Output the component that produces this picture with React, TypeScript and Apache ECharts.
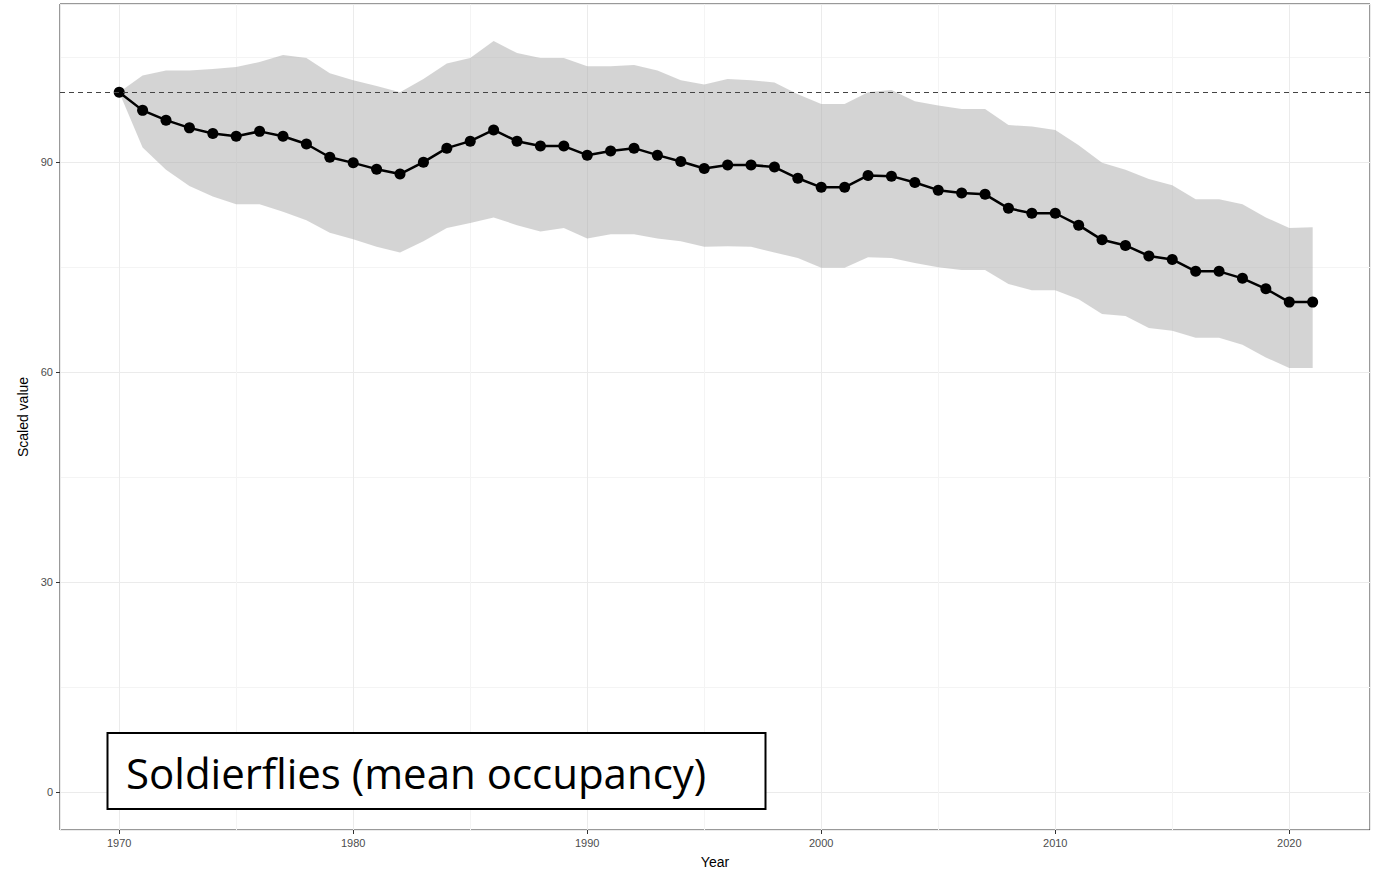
import React, { useEffect, useRef } from "react";
import * as echarts from "echarts";

const years = [
  1970, 1971, 1972, 1973, 1974, 1975, 1976, 1977, 1978, 1979,
  1980, 1981, 1982, 1983, 1984, 1985, 1986, 1987, 1988, 1989,
  1990, 1991, 1992, 1993, 1994, 1995, 1996, 1997, 1998, 1999,
  2000, 2001, 2002, 2003, 2004, 2005, 2006, 2007, 2008, 2009,
  2010, 2011, 2012, 2013, 2014, 2015, 2016, 2017, 2018, 2019,
  2020, 2021,
];

const meanValues = [
  100, 97.4, 96.0, 94.9, 94.1, 93.7, 94.4, 93.7, 92.6, 90.7,
  89.9, 89.0, 88.3, 90.0, 92.0, 93.0, 94.6, 93.0, 92.3, 92.3,
  91.0, 91.6, 92.0, 91.0, 90.1, 89.1, 89.6, 89.6, 89.3, 87.7,
  86.4, 86.4, 88.1, 88.0, 87.1, 86.0, 85.6, 85.4, 83.4, 82.7,
  82.7, 81.0, 78.9, 78.1, 76.6, 76.1, 74.4, 74.4, 73.4, 71.9,
  70.0, 70.0,
];

const upperValues = [
  100, 102.4, 103.1, 103.1, 103.3, 103.6, 104.3, 105.3, 104.9, 102.7,
  101.7, 100.9, 100.0, 101.9, 104.1, 104.9, 107.3, 105.6, 104.9, 104.9,
  103.7, 103.7, 103.9, 103.1, 101.7, 101.1, 101.9, 101.7, 101.4, 99.7,
  98.3, 98.3, 100.0, 100.3, 98.7, 98.1, 97.6, 97.6, 95.3, 95.1,
  94.6, 92.4, 89.9, 88.9, 87.6, 86.7, 84.7, 84.7, 84.0, 82.1,
  80.6, 80.7,
];

const lowerValues = [
  100, 92.1, 88.9, 86.6, 85.1, 84.0, 84.0, 82.9, 81.7, 79.9,
  79.0, 77.9, 77.1, 78.7, 80.6, 81.3, 82.1, 81.0, 80.1, 80.6,
  79.1, 79.7, 79.7, 79.1, 78.7, 77.9, 78.0, 77.9, 77.1, 76.3,
  74.9, 74.9, 76.4, 76.3, 75.6, 75.0, 74.6, 74.6, 72.6, 71.7,
  71.7, 70.4, 68.3, 68.0, 66.3, 65.9, 64.9, 64.9, 63.9, 62.1,
  60.6, 60.6,
];

const baselineValue = 100;
const titleText = "Soldierflies (mean occupancy)";
const xName = "Year";
const yName = "Scaled value";

export default function App() {
  const ref = useRef<HTMLDivElement>(null);

  useEffect(() => {
    if (!ref.current) return;
    const chart = echarts.init(ref.current, null, { renderer: "svg" });

    const bandData = years.map((y, i) => [y, lowerValues[i], upperValues[i]]);
    const meanData = years.map((y, i) => [y, meanValues[i]]);

    const renderBand = (params: any, api: any) => {
      if (params.dataIndex !== 0) return null;
      const upperPts: number[][] = [];
      const lowerPts: number[][] = [];
      for (let i = 0; i < bandData.length; i++) {
        upperPts.push(api.coord([bandData[i][0], bandData[i][2]]));
        lowerPts.push(api.coord([bandData[i][0], bandData[i][1]]));
      }
      const pts = upperPts.concat(lowerPts.reverse());
      return {
        type: "polygon",
        shape: { points: pts },
        style: { fill: "#aaaaaa", opacity: 0.5 },
        silent: true,
      };
    };

    chart.setOption({
      animation: false,
      backgroundColor: "#ffffff",
      grid: {
        left: 60,
        top: 4,
        right: 17,
        bottom: 45,
        show: true,
        borderColor: "#333333",
        borderWidth: 1,
        backgroundColor: "transparent",
      },
      xAxis: {
        type: "value",
        min: 1967.47,
        max: 2023.45,
        splitNumber: 5,
        name: xName,
        nameLocation: "middle",
        nameGap: 25,
        nameTextStyle: { color: "#000", fontSize: 14, fontFamily: "Liberation Sans" },
        axisLine: { show: false, onZero: false },
        axisTick: { show: true, inside: false, length: 4, lineStyle: { color: "#333333" } },
        axisLabel: {
          color: "#4d4d4d",
          fontSize: 11,
          fontFamily: "Liberation Sans",
          margin: 7,
          showMinLabel: false,
          showMaxLabel: false,
          formatter: (v: number) => (Math.abs(v % 10) < 1e-6 ? String(v) : ""),
        },
        splitLine: { show: true, lineStyle: { color: "#ebebeb", width: 1 } },
        minorTick: { show: false, splitNumber: 2 },
        minorSplitLine: { show: true, lineStyle: { color: "#f4f4f4", width: 1 } },
      },
      yAxis: {
        type: "value",
        min: -5.43,
        max: 112.6,
        splitNumber: 4,
        name: yName,
        nameLocation: "middle",
        nameGap: 30,
        nameRotate: 90,
        nameTextStyle: { color: "#000", fontSize: 14, fontFamily: "Liberation Sans" },
        axisLine: { show: false, onZero: false },
        axisTick: { show: true, inside: false, length: 4, lineStyle: { color: "#333333" } },
        axisLabel: {
          color: "#4d4d4d",
          fontSize: 11,
          fontFamily: "Liberation Sans",
          margin: 7,
          showMinLabel: false,
          showMaxLabel: false,
          formatter: (v: number) => (Math.abs(v % 30) < 1e-6 ? String(v) : ""),
        },
        splitLine: { show: true, lineStyle: { color: "#ebebeb", width: 1 } },
        minorTick: { show: false, splitNumber: 2 },
        minorSplitLine: { show: true, lineStyle: { color: "#f4f4f4", width: 1 } },
      },
      series: [
        {
          type: "custom",
          data: bandData,
          encode: { x: 0, y: [1, 2] },
          renderItem: renderBand,
          silent: true,
          z: 1,
        },
        {
          type: "line",
          data: meanData,
          symbol: "circle",
          symbolSize: 11,
          lineStyle: { color: "#000000", width: 2.5 },
          itemStyle: { color: "#000000" },
          z: 3,
          markLine: {
            silent: true,
            symbol: "none",
            label: { show: false },
            lineStyle: { color: "#444444", type: [5, 4], width: 1.2 },
            data: [{ yAxis: baselineValue }],
          },
        },
      ],
      graphic: [
        {
          type: "rect",
          shape: { x: 107.5, y: 733, width: 658, height: 76 },
          style: { fill: "#ffffff", stroke: "#000000", lineWidth: 2 },
          z: 10,
        },
        {
          type: "text",
          x: 126,
          y: 772,
          style: {
            text: titleText,
            fill: "#000000",
            font: "42px 'Open Sans'",
            textVerticalAlign: "middle",
            verticalAlign: "middle",
          },
          z: 11,
        },
      ],
    });

    return () => chart.dispose();
  }, []);

  return (
    <div
      ref={ref}
      style={{ position: "fixed", left: 0, top: 0, width: 1387, height: 875 }}
    />
  );
}
